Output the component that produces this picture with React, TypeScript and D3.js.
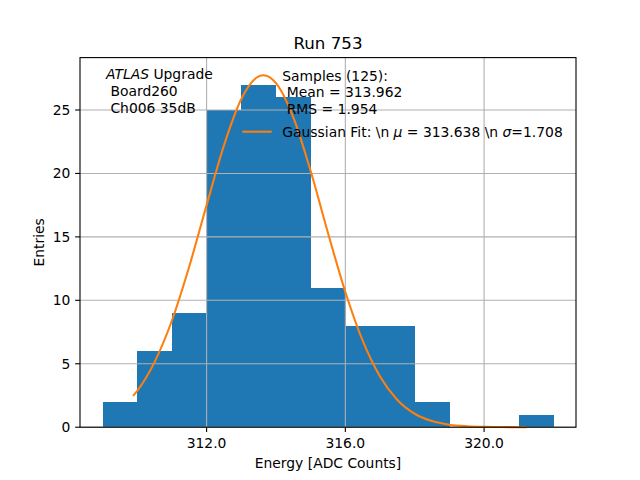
import { useEffect } from "react";
import * as d3 from "d3";

// histogram bins (left edge, width 1) and entries
const binStarts = [309, 310, 311, 312, 313, 314, 315, 316, 317, 318, 319, 320, 321];
const binCounts = [2, 6, 9, 25, 27, 26, 11, 8, 8, 2, 0, 0, 1];

// gaussian fit curve
const fitX = [309.9, 310, 310.5, 311, 311.5, 312, 312.5, 313, 313.5, 313.638, 314, 314.5, 315, 315.5, 316, 316.5, 317, 317.5, 318, 318.5, 319, 319.5, 320, 320.5, 321, 321.2];
const fitY = [2.53, 2.87, 5.13, 8.41, 12.67, 17.5, 22.2, 25.86, 27.65, 27.74, 27.12, 24.42, 20.19, 15.31, 10.66, 6.82, 4.0, 2.15, 1.06, 0.48, 0.2, 0.08, 0.03, 0.01, 0.0, 0.0];

const xTicks = [312, 316, 320];
const yTicks = [0, 5, 10, 15, 20, 25];

const W = 640, H = 480;
const M = { left: 80, right: 576, top: 57.6, bottom: 427.2 };
const FONT = "DejaVu Sans, sans-serif";

export default function App() {
  useEffect(() => {
    document.body.style.margin = "0";
  }, []);

  const x = d3.scaleLinear().domain([308.35, 322.65]).range([M.left, M.right]);
  const y = d3.scaleLinear().domain([0, 29.13]).range([M.bottom, M.top]);
  const line = d3.line<number>()
    .x((_, i) => x(fitX[i]))
    .y((d) => y(d))
    .curve(d3.curveMonotoneX);

  return (
    <svg width={W} height={H} style={{ display: "block", background: "#fff" }} fontFamily={FONT}>
      {/* bars */}
      <g shapeRendering="crispEdges">
        {binStarts.map((s, i) =>
          binCounts[i] > 0 ? (
            <rect key={s} x={x(s)} y={y(binCounts[i])} width={x(s + 1) - x(s) + 0.4} height={y(0) - y(binCounts[i])} fill="#1f77b4" />
          ) : null
        )}
      </g>

      {/* grid */}
      <g stroke="#b0b0b0" strokeWidth={1.1}>
        {xTicks.map((t) => <line key={t} x1={x(t)} x2={x(t)} y1={M.top} y2={M.bottom} />)}
        {yTicks.map((t) => <line key={t} x1={M.left} x2={M.right} y1={y(t)} y2={y(t)} />)}
      </g>

      {/* fit */}
      <path d={line(fitY) ?? ""} fill="none" stroke="#ff7f0e" strokeWidth={2.08} strokeLinecap="square" />

      {/* frame */}
      <rect x={M.left} y={M.top} width={M.right - M.left} height={M.bottom - M.top} fill="none" stroke="#000" strokeWidth={1.1} />

      {/* axes */}
      <g fontSize={13.89} fill="#000">
        {xTicks.map((t) => (
          <g key={t}>
            <line x1={x(t)} x2={x(t)} y1={M.bottom} y2={M.bottom + 4.86} stroke="#000" strokeWidth={1.1} />
            <text x={x(t)} y={447.7} textAnchor="middle">{t.toFixed(1)}</text>
          </g>
        ))}
        {yTicks.map((t) => (
          <g key={t}>
            <line x1={M.left - 4.86} x2={M.left} y1={y(t)} y2={y(t)} stroke="#000" strokeWidth={1.1} />
            <text x={70.3} y={y(t) + 5} textAnchor="end">{t}</text>
          </g>
        ))}
        <text x={(M.left + M.right) / 2} y={467.7} textAnchor="middle">Energy [ADC Counts]</text>
        <text transform={`translate(43.5,${(M.top + M.bottom) / 2}) rotate(-90)`} textAnchor="middle">Entries</text>
      </g>

      {/* title */}
      <text x={(M.left + M.right) / 2} y={49} textAnchor="middle" fontSize={16.67}>Run 753</text>

      {/* annotation */}
      <g fontSize={13.89}>
        <text x={106} y={79} xmlSpace="preserve"><tspan fontStyle="italic">ATLAS</tspan> Upgrade</text>
        <text x={106} y={96} xmlSpace="preserve">{" Board260"}</text>
        <text x={106} y={112.5} xmlSpace="preserve">{" Ch006 35dB"}</text>
      </g>

      {/* legend */}
      <g fontSize={13.89}>
        <text x={282.3} y={80.7} xmlSpace="preserve">Samples (125):</text>
        <text x={282.3} y={97.3} xmlSpace="preserve">{" Mean = 313.962"}</text>
        <text x={282.3} y={114} xmlSpace="preserve">{" RMS = 1.954"}</text>
        <line x1={242.3} x2={271.7} y1={131.7} y2={131.7} stroke="#ff7f0e" strokeWidth={2.08} />
        <text x={282.3} y={136.5} xmlSpace="preserve">
          {"Gaussian Fit: \\n "}<tspan fontStyle="italic">μ</tspan>{" = 313.638 \\n "}<tspan fontStyle="italic">σ</tspan>{"=1.708"}
        </text>
      </g>
    </svg>
  );
}
